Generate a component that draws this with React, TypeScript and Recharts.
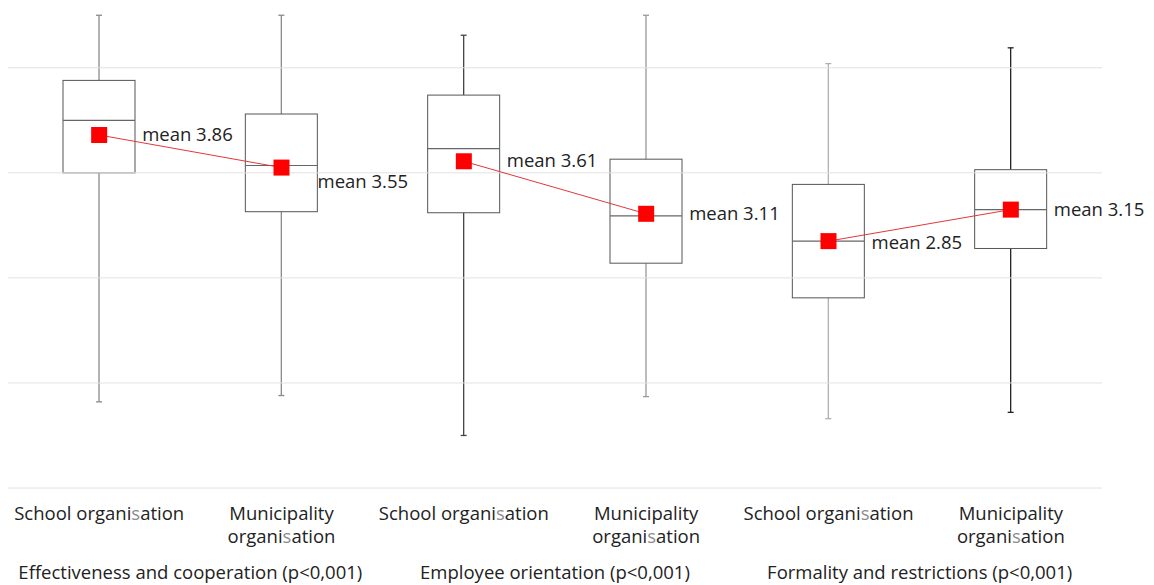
import { ComposedChart, Bar, Line, XAxis, YAxis, ReferenceLine } from "recharts";

// categories and groups
const categories = [
  "School organisation",
  "Municipality organisation",
  "School organisation",
  "Municipality organisation",
  "School organisation",
  "Municipality organisation",
];
const groups = [
  "Effectiveness and cooperation (p<0,001)",
  "Employee orientation (p<0,001)",
  "Formality and restrictions (p<0,001)",
];

// box plot values
const whiskerLow = [1.32, 1.38, 1.0, 1.37, 1.16, 1.22];
const q1 = [3.5, 3.13, 3.12, 2.64, 2.31, 2.78];
const median = [4.0, 3.57, 3.73, 3.09, 2.85, 3.15];
const q3 = [4.38, 4.06, 4.24, 3.63, 3.39, 3.53];
const whiskerHigh = [5.0, 5.0, 4.81, 5.0, 4.54, 4.69];
const means = [3.86, 3.55, 3.61, 3.11, 2.85, 3.15];

const yTicks = [0.5, 1.5, 2.5, 3.5, 4.5];

const whiskerColors = ["#8a8a8a", "#8a8a8a", "#444", "#999", "#b0b0b0", "#222"];
const FONT = "'Open Sans', sans-serif";
const W = 1146;
const H = 577;
const MARGIN = { top: 2, right: 52, bottom: 0, left: 0 };
const STEP = (W - MARGIN.left - MARGIN.right) / categories.length;

const data = categories.map((name, i) => {
  const g = Math.floor(i / 2);
  return {
    name,
    idx: i,
    range: [whiskerLow[i], whiskerHigh[i]],
    q1: q1[i],
    median: median[i],
    q3: q3[i],
    mean: means[i],
    m0: g === 0 ? means[i] : null,
    m1: g === 1 ? means[i] : null,
    m2: g === 2 ? means[i] : null,
  };
});

// "organisation" with the greyed s, like in the original
const Word = ({ text }: { text: string }) => {
  const k = text.indexOf("organisation");
  if (k < 0) return <>{text}</>;
  return (
    <>
      {text.slice(0, k)}organi
      <tspan fill="#8c8c8c">s</tspan>
      ation{text.slice(k + 12)}
    </>
  );
};

const BoxShape = (props: any) => {
  const { x, y, width, height } = props;
  const p = props.payload ?? props;
  const [lo, hi] = p.range;
  const top = Math.min(y, y + height);
  const bottom = Math.max(y, y + height);
  const pix = (v: number) => bottom - ((v - lo) / (hi - lo)) * (bottom - top);
  const cx = x + width / 2;
  const wc = whiskerColors[p.idx] ?? "#888";
  const yq1 = pix(p.q1);
  const yq3 = pix(p.q3);
  const ym = pix(p.median);
  return (
    <g>
      <line x1={cx} x2={cx} y1={top} y2={yq3} stroke={wc} strokeWidth={1.3} />
      <line x1={cx} x2={cx} y1={yq1} y2={bottom} stroke={wc} strokeWidth={1.3} />
      <line x1={cx - 3} x2={cx + 3} y1={top} y2={top} stroke={wc} strokeWidth={1.3} />
      <line x1={cx - 3} x2={cx + 3} y1={bottom} y2={bottom} stroke={wc} strokeWidth={1.3} />
      <rect x={x} y={yq3} width={width} height={yq1 - yq3} fill="#fff" stroke="#555" strokeWidth={1} />
      <line x1={x} x2={x + width} y1={ym} y2={ym} stroke="#666" strokeWidth={1.2} />
    </g>
  );
};

const MeanDot = (props: any) => {
  const { cx, cy, value } = props;
  if (value == null || cy == null || isNaN(cy)) return <g key={props.key} />;
  return <rect key={props.key} x={cx - 8} y={cy - 8} width={16} height={16} fill="#ff0000" />;
};

const MeanLabel = (props: any) => {
  const { x, y, value, index } = props;
  if (value == null || y == null || isNaN(y)) return <g />;
  const nudgeX = index === 1 ? 36 : 43;
  const nudgeY = index === 1 ? 14 : index === 4 ? 2 : 0;
  return (
    <text x={x + nudgeX} y={y + nudgeY + 6} fontSize={18.5} fontFamily={FONT} fill="#222">
      mean {Number(value).toFixed(2)}
    </text>
  );
};

const CategoryTick = (props: any) => {
  const { x, y, payload, index } = props;
  const label: string = payload.value;
  const lines = label.startsWith("Municipality") ? ["Municipality", "organisation"] : [label];
  return (
    <g>
      {lines.map((l, i) => (
        <text key={i} x={x} y={y + 24 + i * 23} textAnchor="middle" fontSize={18.5} fontFamily={FONT} fill="#222">
          <Word text={l} />
        </text>
      ))}
      {index % 2 === 0 && (
        <text x={x + STEP / 2} y={y + 83} textAnchor="middle" fontSize={18.5} fontFamily={FONT} fill="#222">
          {groups[index / 2]}
        </text>
      )}
    </g>
  );
};

export default function App() {
  return (
    <div style={{ width: W, height: H }}>
      <ComposedChart width={W} height={H} data={data} margin={MARGIN}>
        {yTicks.map((t) => (
          <ReferenceLine key={t} y={t} stroke="#e2e2e2" strokeWidth={1} />
        ))}
        <XAxis
          dataKey="name"
          axisLine={false}
          tickLine={false}
          height={97}
          interval={0}
          tick={<CategoryTick />}
        />
        <YAxis hide type="number" domain={[0.5, 5.05]} ticks={yTicks} allowDataOverflow />
        <Bar dataKey="range" barSize={72} shape={<BoxShape />} isAnimationActive={false} />
        {["m0", "m1", "m2"].map((k) => (
          <Line
            key={k}
            dataKey={k}
            stroke="#e0383a"
            strokeWidth={1}
            dot={<MeanDot />}
            activeDot={false}
            label={<MeanLabel />}
            isAnimationActive={false}
          />
        ))}
      </ComposedChart>
    </div>
  );
}
